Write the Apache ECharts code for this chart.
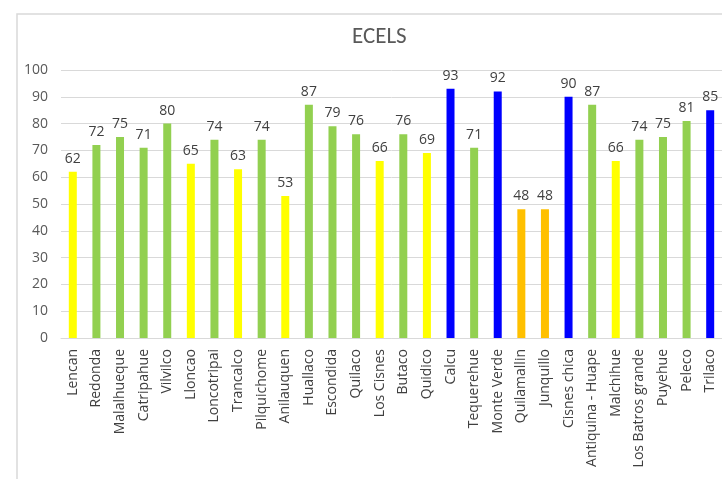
<!DOCTYPE html>
<html>
<head>
<meta charset="utf-8">
<script src="https://cdn.jsdelivr.net/npm/echarts@6/dist/echarts.min.js"></script>
<style>html,body{margin:0;padding:0;background:#fff;}#c{width:722px;height:479px;}</style>
</head>
<body>
<div id="c"></div>
<script>
const categories = ["Lencan","Redonda","Malalhueque","Catripahue","Vilvilco","Lloncao","Loncotripai","Trancalco","Pilquichome","Anilauquen","Huallaco","Escondida","Quilaco","Los Cisnes","Butaco","Quidico","Calcu","Tequerehue","Monte Verde","Quilamallin","Junquillo","Cisnes chica","Antiquina - Huape","Malchihue","Los Batros grande","Puyehue","Peleco","Trilaco"];
const values = [62,72,75,71,80,65,74,63,74,53,87,79,76,66,76,69,93,71,92,48,48,90,87,66,74,75,81,85];
const classes = ["Y","G","G","G","G","Y","G","Y","G","Y","G","G","G","Y","G","Y","B","G","B","O","O","B","G","Y","G","G","G","B"];
const yTicks = [0,10,20,30,40,50,60,70,80,90,100];

const palette = {Y:"#FFFF00", G:"#92D050", B:"#0000FF", O:"#FFC000"};
const chart = echarts.init(document.getElementById('c'), null, {renderer:'canvas'});
const titleFont = "Carlito, Calibri, Lato, sans-serif";
const font = "'Open Sans', 'Noto Sans', sans-serif";
chart.setOption({
  animation:false,
  title:{text:"ECELS", left:347, top:21, textStyle:{fontFamily:titleFont, fontSize:23, fontWeight:'normal', color:'#595959'}},
  graphic:[{type:'rect', shape:{x:17,y:14,width:800,height:600}, style:{fill:'none', stroke:'#d9d9d9', lineWidth:1.5}, silent:true}],
  grid:{left:61, top:70, width:666, height:268, containLabel:false},
  xAxis:{type:'category', data:categories,
    axisLine:{lineStyle:{color:'#d9d9d9'}}, axisTick:{show:false},
    axisLabel:{rotate:90, interval:0, margin:11, fontFamily:font, fontSize:14, color:'#404040'}},
  yAxis:{type:'value', min:yTicks[0], max:yTicks[yTicks.length-1], interval:10,
    axisLine:{show:false}, axisTick:{show:false},
    splitLine:{lineStyle:{color:'#d9d9d9'}},
    axisLabel:{margin:13, fontFamily:font, fontSize:14, color:'#595959'}},
  series:[{type:'bar', barWidth:8,
    data: values.map((v,i)=>({value:v, itemStyle:{color:palette[classes[i]]}})),
    label:{show:true, position:'top', distance:6, fontFamily:font, fontSize:14, color:'#404040'}}]
});
</script>
</body>
</html>
